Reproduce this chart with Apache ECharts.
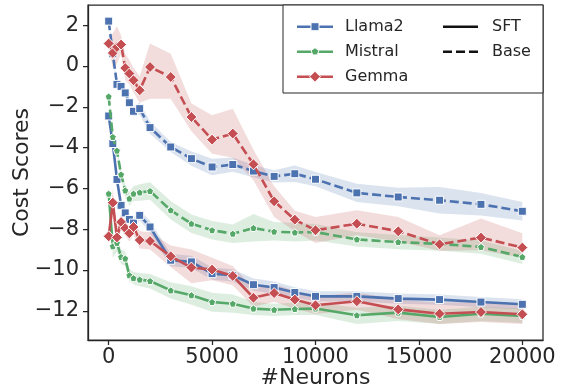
<!DOCTYPE html>
<html><head><meta charset="utf-8">
<script src="https://cdn.jsdelivr.net/npm/echarts@6/dist/echarts.min.js"></script>
<style>html,body{margin:0;padding:0;background:#fff}#c{width:567px;height:391px}</style>
</head><body><div id="c"></div>
<script>
// ---- data ----
const neurons = [0,200,400,600,800,1000,1200,1500,2000,3000,4000,5000,6000,7000,8000,9000,10000,12000,14000,16000,18000,20000];
const xTicks = [0,5000,10000,15000,20000];
const yTicks = [-12,-10,-8,-6,-4,-2,0,2];

const llama2Base   = [2.2,0.6,-0.9,-1.0,-1.32,-1.8,-2.22,-2.09,-3.02,-3.97,-4.54,-4.95,-4.83,-5.15,-5.41,-5.28,-5.55,-6.22,-6.42,-6.58,-6.78,-7.12];
const llama2BaseHi = [2.3,0.75,-0.75,-0.85,-1.12,-1.6,-1.97,-1.79,-2.72,-3.72,-4.19,-4.55,-4.48,-4.85,-5.11,-4.88,-5.2,-5.77,-5.97,-5.93,-6.23,-6.67];
const llama2BaseLo = [2.1,0.45,-1.05,-1.15,-1.52,-2.0,-2.47,-2.39,-3.32,-4.22,-4.89,-5.35,-5.18,-5.45,-5.71,-5.68,-5.9,-6.67,-6.87,-7.23,-7.33,-7.57];

const mistralBase   = [-1.5,-3.48,-4.15,-5.32,-6.1,-6.5,-6.26,-6.2,-6.13,-7.07,-7.73,-8.05,-8.22,-7.94,-8.12,-8.16,-8.14,-8.5,-8.63,-8.72,-8.87,-9.36];
const mistralBaseHi = [-1.4,-3.3,-3.95,-5.1,-5.8,-6.15,-5.9,-5.8,-5.7,-6.62,-7.28,-7.6,-7.77,-7.25,-7.65,-7.7,-7.75,-8.15,-8.28,-8.4,-8.55,-9.05];
const mistralBaseLo = [-1.6,-3.66,-4.35,-5.54,-6.4,-6.85,-6.62,-6.6,-6.56,-7.52,-8.18,-8.5,-8.67,-8.6,-8.55,-8.6,-8.55,-8.85,-8.98,-9.05,-9.2,-9.7];

const gemmaBase   = [1.1,0.64,0.93,1.05,-0.1,-0.37,-0.7,-1.19,-0.05,-0.54,-2.5,-3.61,-3.31,-4.82,-6.63,-7.53,-8.05,-7.73,-8.1,-8.74,-8.41,-8.9];
const gemmaBaseHi = [1.3,1.6,1.95,1.5,0.6,0.3,-0.1,-0.5,1.1,0.6,-1.84,-2.42,-2.09,-4.1,-5.9,-7.1,-7.4,-7.07,-7.4,-8.3,-7.48,-8.2];
const gemmaBaseLo = [0.9,-0.1,0.1,0.6,-0.7,-0.9,-1.3,-1.8,-1.6,-1.6,-3.2,-4.3,-4.5,-5.6,-7.4,-8.1,-8.68,-8.3,-8.6,-9.05,-9.03,-9.4];

const llama2SFT   = [-2.45,-3.8,-5.56,-6.83,-7.2,-7.52,-7.7,-7.32,-7.89,-9.52,-9.6,-10.18,-10.26,-10.72,-10.86,-11.1,-11.29,-11.29,-11.4,-11.45,-11.57,-11.68];
const llama2SFTHi = [-2.35,-3.6,-5.36,-6.6,-6.95,-7.27,-7.45,-7.07,-7.59,-9.22,-9.3,-9.88,-9.96,-10.42,-10.56,-10.85,-11.04,-11.04,-11.15,-11.2,-11.32,-11.43];
const llama2SFTLo = [-2.55,-4.0,-5.76,-7.06,-7.45,-7.77,-7.95,-7.57,-8.19,-9.82,-9.9,-10.48,-10.56,-11.02,-11.16,-11.35,-11.54,-11.54,-11.65,-11.7,-11.82,-11.93];

const mistralSFT   = [-6.26,-8.84,-8.67,-9.36,-9.44,-10.26,-10.4,-10.47,-10.54,-11.0,-11.24,-11.57,-11.65,-11.89,-11.95,-11.91,-11.89,-12.22,-12.09,-12.3,-12.14,-12.25];
const mistralSFTHi = [-5.9,-8.3,-8.3,-9.0,-9.1,-9.95,-10.1,-10.15,-10.2,-10.6,-10.8,-11.12,-11.2,-11.55,-11.65,-11.6,-11.6,-11.85,-11.75,-11.95,-11.8,-11.9];
const mistralSFTLo = [-6.6,-9.4,-9.1,-9.7,-9.8,-10.55,-10.7,-10.8,-10.9,-11.4,-11.7,-12.05,-12.1,-12.2,-12.25,-12.2,-12.2,-12.65,-12.5,-12.65,-12.5,-12.6];

const gemmaSFT   = [-8.35,-6.7,-8.4,-7.65,-7.95,-8.2,-7.89,-8.53,-8.58,-9.33,-9.88,-9.98,-10.29,-11.36,-11.13,-11.45,-11.73,-11.53,-11.93,-12.14,-12.06,-12.17];
const gemmaSFTHi = [-8.0,-6.0,-7.9,-7.25,-7.6,-7.8,-7.5,-8.1,-8.15,-8.8,-9.0,-9.4,-9.8,-10.9,-10.7,-11.0,-11.3,-11.1,-11.45,-11.6,-11.55,-11.7];
const gemmaSFTLo = [-8.7,-7.4,-8.9,-8.05,-8.3,-8.6,-8.3,-8.95,-9.0,-9.85,-10.65,-10.5,-10.75,-11.8,-11.55,-11.9,-12.15,-11.95,-12.4,-12.65,-12.55,-12.65];

// ---- styles ----
const BLUE = '#4C72B0', GREEN = '#55A868', RED = '#C44E52', INK = '#262626';
const FONT = 'DejaVu Sans';
const PENT = 'path://M0,-1L0.951,-0.309L0.588,0.809L-0.588,0.809L-0.951,-0.309Z';

function rgba(hex, a){
  const n = parseInt(hex.slice(1),16);
  return 'rgba(' + (n>>16&255) + ',' + (n>>8&255) + ',' + (n&255) + ',' + a + ')';
}
function band(lo, hi, color, z){
  return {
    type:'custom', coordinateSystem:'cartesian2d', silent:true, z:z,
    data: neurons.map((x,i)=>[x, lo[i], hi[i]]),
    encode:{x:0, y:[1,2]},
    renderItem(params, api){
      if (params.dataIndex !== 0) return null;
      const top = [], bot = [];
      for (let i=0;i<neurons.length;i++){
        top.push(api.coord([neurons[i], hi[i]]));
        bot.push(api.coord([neurons[i], lo[i]]));
      }
      return {type:'polygon', shape:{points: top.concat(bot.reverse())}, style:{fill: rgba(color,0.2)}};
    }
  };
}
function line(vals, color, symbol, size, dashed, z){
  return {
    type:'line', data: neurons.map((x,i)=>[x, vals[i]]), z:z,
    symbol: symbol, symbolSize: size, showSymbol:true, showAllSymbol:true,
    lineStyle:{color: color, width:2.6, type: dashed ? [9,4] : 'solid', cap:'butt'},
    itemStyle:{color: color, borderColor:'#fff', borderWidth:1},
    emphasis:{disabled:true}
  };
}
const fmtY = v => (v < 0 ? '\u2212' : '') + Math.abs(v);
const fmtX = v => String(v);

const L0 = 297, L1 = 333, LT = 345, R0 = 443, R1 = 478, RT = 492;
const rows = [26.7, 51.7, 76.7];
function legendLine(x0,x1,y,color,dash){
  return {type:'line', shape:{x1:x0,y1:y,x2:x1,y2:y}, style:{stroke:color, lineWidth:2.6, lineDash: dash || null}, z:100};
}
function legendText(x,y,t){
  return {type:'text', x:x, y:y, style:{text:t, fill:INK, font:'16px "'+FONT+'"', textVerticalAlign:'middle'}, z:100};
}
const cx = (L0+L1)/2;
const graphics = [
  {type:'rect', shape:{x:283, y:5, width:260, height:88}, style:{fill:'#fff', stroke:INK, lineWidth:1}, z:99},
  legendLine(L0,L1,rows[0],BLUE),
  {type:'rect', shape:{x:cx-4, y:rows[0]-4, width:8, height:8}, style:{fill:BLUE, stroke:'#fff', lineWidth:1}, z:101},
  legendText(LT,rows[0],'Llama2'),
  legendLine(L0,L1,rows[1],GREEN),
  {type:'polygon', shape:{points:[[cx,rows[1]-4],[cx+3.8,rows[1]-1.2],[cx+2.35,rows[1]+3.2],[cx-2.35,rows[1]+3.2],[cx-3.8,rows[1]-1.2]]}, style:{fill:GREEN, stroke:'#fff', lineWidth:1}, z:101},
  legendText(LT,rows[1],'Mistral'),
  legendLine(L0,L1,rows[2],RED),
  {type:'polygon', shape:{points:[[cx,rows[2]-5.5],[cx+5.5,rows[2]],[cx,rows[2]+5.5],[cx-5.5,rows[2]]]}, style:{fill:RED, stroke:'#fff', lineWidth:1}, z:101},
  legendText(LT,rows[2],'Gemma'),
  legendLine(R0,R1,rows[0],'#111'),
  legendText(RT,rows[0],'SFT'),
  legendLine(R0,R1,rows[1],'#111',[9,4]),
  legendText(RT,rows[1],'Base'),
  {type:'text', x:22, y:172.5, rotation:Math.PI/2, style:{text:'Cost Scores', fill:INK, font:'22px "'+FONT+'"', textAlign:'center', textVerticalAlign:'middle'}},
  {type:'text', x:315.5, y:378, style:{text:'#Neurons', fill:INK, font:'22px "'+FONT+'"', textAlign:'center', textVerticalAlign:'middle'}}
];

const chart = echarts.init(document.getElementById('c'), null, {renderer:'canvas'});
chart.setOption({
  animation:false,
  backgroundColor:'#fff',
  grid:{left:88, top:5, width:455, height:335, show:true, borderColor:INK, borderWidth:1.25, backgroundColor:'transparent', containLabel:false},
  xAxis:{
    type:'value', min:-1000, max:21000,
    axisLine:{show:true, onZero:false, lineStyle:{color:INK, width:1.25}},
    axisTick:{show:true, length:5, inside:false, customValues:xTicks, lineStyle:{color:INK, width:1.25}},
    axisLabel:{customValues:xTicks, color:INK, fontSize:21, fontFamily:FONT, margin:7, formatter:fmtX},
    splitLine:{show:false}
  },
  yAxis:{
    type:'value', min:-13.43, max:2.99,
    axisLine:{show:true, onZero:false, lineStyle:{color:INK, width:1.25}},
    axisTick:{show:true, length:5, inside:false, customValues:yTicks, lineStyle:{color:INK, width:1.25}},
    axisLabel:{customValues:yTicks, color:INK, fontSize:21, fontFamily:FONT, margin:9, formatter:fmtY},
    splitLine:{show:false}
  },
  series:[
    band(llama2SFTLo, llama2SFTHi, BLUE, 1),
    band(llama2BaseLo, llama2BaseHi, BLUE, 1),
    band(mistralSFTLo, mistralSFTHi, GREEN, 1),
    band(mistralBaseLo, mistralBaseHi, GREEN, 1),
    band(gemmaSFTLo, gemmaSFTHi, RED, 1),
    band(gemmaBaseLo, gemmaBaseHi, RED, 1),
    line(llama2SFT, BLUE, 'rect', 8, false, 3),
    line(llama2Base, BLUE, 'rect', 8, true, 3),
    line(mistralSFT, GREEN, PENT, 7, false, 4),
    line(mistralBase, GREEN, PENT, 7, true, 4),
    line(gemmaSFT, RED, 'diamond', 11, false, 5),
    line(gemmaBase, RED, 'diamond', 11, true, 5)
  ],
  graphic: graphics
});
</script></body></html>
